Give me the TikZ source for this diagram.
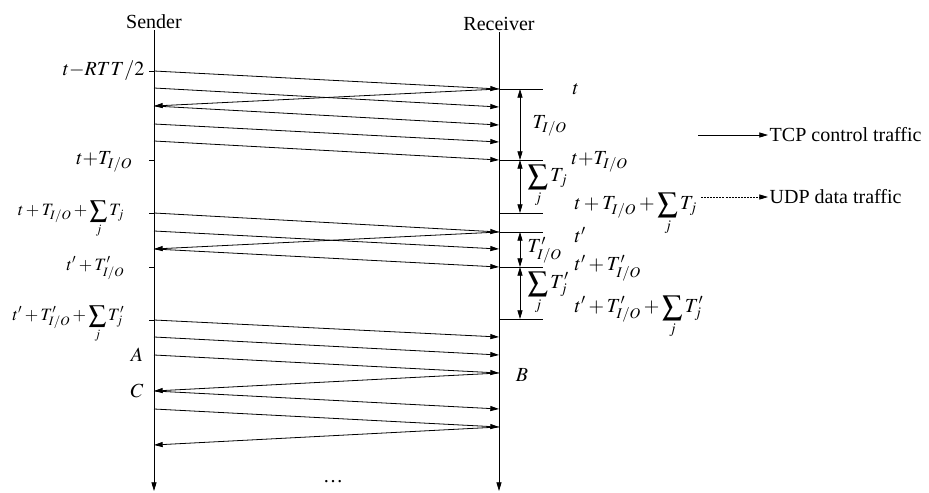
\documentclass[tikz,border=0pt]{standalone}
\usepackage{mathptmx}
\usepackage{fontspec}
\setmainfont{Liberation Serif}
\usetikzlibrary{arrows.meta}

\begin{document}
\begin{tikzpicture}[x=0.75pt,y=-0.75pt,line width=0.6pt]
			\useasboundingbox (0,0) rectangle (929,493);
			\def\xS{154}
			\def\xR{499}
			\tikzstyle{msg}=[-{Triangle[length=6.5pt,width=3.8pt]}]
			\tikzstyle{span}=[{Triangle[length=6.5pt,width=3.8pt]}-{Triangle[length=6.5pt,width=3.8pt]}]
			\tikzstyle{lbl}=[font=\fontsize{15}{18}\selectfont, inner sep=1pt]
			\tikzstyle{lbs}=[font=\fontsize{13}{16}\selectfont, inner sep=1pt]
			% time lines
			\coordinate (S0) at (\xS,30);
			\coordinate (S1) at (\xS,491);
			\coordinate (R0) at (\xR,32);
			\coordinate (R1) at (\xR,491);
			\draw[msg] (S0) -- (S1);
			\draw[msg] (R0) -- (R1);
			\node[lbl, above] (sender) at (S0) {Sender};
			\node[lbl, above] (receiver) at (R0) {Receiver};
			% sender to receiver
			\foreach \n/\ys/\yr in {1/71/89, 2/88/107, 4/106/125, 5/124/142, 6/141/160,
				7/213/232, 8/231/249, 9/249/267, 10/320/337, 11/337/355, 12/355/373,
				13/391/409, 14/409/427}{
				\coordinate (s\n) at (\xS,\ys);
				\coordinate (r\n) at (\xR,\yr);
				\draw[msg] (s\n) -- (r\n);
			}
			% receiver to sender
			\foreach \n/\yr/\ys in {1/89/106, 2/232/249, 3/373/391, 4/427/445}{
				\coordinate (rb\n) at (\xR,\yr);
				\coordinate (sb\n) at (\xS,\ys);
				\draw[msg] (rb\n) -- (sb\n);
			}
			% ticks on the sender
			\foreach \n/\y in {1/71, 2/160, 3/213, 4/267, 5/320}{
				\coordinate (ta\n) at (149,\y);
				\coordinate (tb\n) at (\xS,\y);
				\draw (ta\n) -- (tb\n);
			}
			% marks on the receiver
			\foreach \n/\y in {1/89, 2/160, 3/213, 4/232, 5/267, 6/319}{
				\coordinate (ma\n) at (\xR,\y);
				\coordinate (mb\n) at (543,\y);
				\coordinate (m\n) at (520,\y);
				\draw (ma\n) -- (mb\n);
			}
			\draw[span] (m1) -- (m2);
			\draw[span] (m2) -- (m3);
			\draw[span] (m4) -- (m5);
			\draw[span] (m5) -- (m6);
			\node[lbl, anchor=west] (dT) at (531,126) {$T_{I/O}$};
			\node[lbl, anchor=west] (dS) at (526,186) {$\displaystyle\sum_j T_j$};
			\node[lbl, anchor=west] (dTp) at (526,250) {$T'_{I/O}$};
			\node[lbl, anchor=west] (dSp) at (526,293) {$\displaystyle\sum_j T'_j$};
			% receiver times
			\node[lbl, anchor=west] at (571,89) {$t$};
			\node[lbl, anchor=west] at (570,162) {$t{+}T_{I/O}$};
			\node[lbl, anchor=west] at (573,214) {$\displaystyle t+T_{I/O}+\sum_j T_j$};
			\node[lbl, anchor=west] at (573,235) {$t'$};
			\node[lbl, anchor=west] at (573,268) {$t'+T'_{I/O}$};
			\node[lbl, anchor=west] at (573,317) {$\displaystyle t'+T'_{I/O}+\sum_j T'_j$};
			% sender times
			\node[lbl, anchor=east] at (146,71) {$t{-}RTT/2$};
			\node[lbl, anchor=east] at (134,162) {$t{+}T_{I/O}$};
			\node[lbs, anchor=east] at (126,219) {$\displaystyle t+T_{I/O}+\sum_j T_j$};
			\node[lbs, anchor=east] at (126,268) {$t'+T'_{I/O}$};
			\node[lbs, anchor=east] at (126,324) {$\displaystyle t'+T'_{I/O}+\sum_j T'_j$};
			\node[lbl] (A) at (137,355) {$A$};
			\node[lbl] (B) at (522,375) {$B$};
			\node[lbl] (C) at (137,391) {$C$};
			\node[lbl] (dots) at (333,482) {\dots};
			% legend
			\node[lbl, anchor=west] (tcp) at (768,135) {TCP control traffic};
			\node[lbl, anchor=west] (udp) at (768,197) {UDP data traffic};
			\coordinate (tcpL) at (698,135);
			\coordinate (udpL) at (701,197);
			\draw[msg] (tcpL) -- (tcp);
			\draw[msg, densely dashed, dash pattern=on 1.5pt off 0.8pt] (udpL) -- (udp);
		\end{tikzpicture}
\end{document}
